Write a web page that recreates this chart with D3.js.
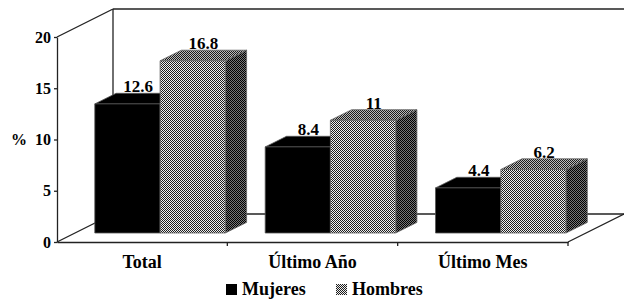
<!DOCTYPE html>
<html>
<head>
<meta charset="utf-8">
<script src="https://cdn.jsdelivr.net/npm/d3@7"></script>
<style>
    body { margin: 0; background: #fff; }
    svg { display: block; }
</style>
</head>
<body>
<div id="chart"></div>
<script>
// chart data
var categories = ["Total", "Último Año", "Último Mes"];
var series = ["Mujeres", "Hombres"];
var mujeres = [12.6, 8.4, 4.4];
var hombres = [16.8, 11, 6.2];
var yTicks = [0, 5, 10, 15, 20];

function init() {
    var w = 624;
    var h = 302;
    var serif = "'Liberation Serif', monospace";

    // depth of the 3d box and where bars sit inside it
    var DX = 56, DY = -28;
    var z0 = 0.32, z1 = 0.70;

    var svg = d3.select("#chart")
        .append("svg")
        .attr("width", w)
        .attr("height", h);

    // patterns for the Hombres bars
    var defs = svg.append("defs");
    function checker(id, bg, fg) {
        var p = defs.append("pattern")
            .attr("id", id)
            .attr("width", 2)
            .attr("height", 2)
            .attr("patternUnits", "userSpaceOnUse");
        p.append("rect").attr("width", 2).attr("height", 2).attr("fill", bg);
        p.append("rect").attr("width", 1).attr("height", 1).attr("fill", fg);
        p.append("rect").attr("x", 1).attr("y", 1).attr("width", 1).attr("height", 1).attr("fill", fg);
    }
    checker("hFront", "#f0f0f0", "#1e1e1e");
    checker("hTop", "#bbbbbb", "#1a1a1a");
    checker("hSide", "#777777", "#000000");

    var xScale = d3.scaleBand()
        .domain(categories)
        .range([57, 568])
        .paddingInner(0.234)
        .paddingOuter(0.117);

    var sScale = d3.scaleBand()
        .domain(series)
        .range([0, xScale.bandwidth()]);

    var yScale = d3.scaleLinear()
        .domain([0, 20])
        .range([242, 37]);

    function px(x, z) { return x + z * DX; }
    function py(y, z) { return y + z * DY; }

    var lineColor = "#222";
    var x0 = xScale.range()[0], x1 = xScale.range()[1];
    var yb = yScale(0), yt = yScale(20);

    // walls and floor
    var frame = svg.append("g")
        .attr("fill", "none")
        .attr("stroke", lineColor)
        .attr("stroke-width", 1.3);
    frame.append("line").attr("x1", x0).attr("y1", yt).attr("x2", px(x0, 1)).attr("y2", py(yt, 1));
    frame.append("line").attr("x1", px(x0, 1)).attr("y1", py(yt, 1)).attr("x2", px(x1, 1)).attr("y2", py(yt, 1));
    frame.append("line").attr("x1", px(x0, 1)).attr("y1", py(yt, 1)).attr("x2", px(x0, 1)).attr("y2", py(yb, 1));
    frame.append("line").attr("x1", x0).attr("y1", yb).attr("x2", px(x0, 1)).attr("y2", py(yb, 1));
    frame.append("line").attr("x1", px(x0, 1)).attr("y1", py(yb, 1)).attr("x2", px(x1, 1)).attr("y2", py(yb, 1));
    frame.append("line").attr("x1", x1).attr("y1", yb).attr("x2", px(x1, 1)).attr("y2", py(yb, 1));

    // bars
    var rows = [];
    categories.forEach(function(c, i) {
        rows.push({ cat: c, s: "Mujeres", v: mujeres[i] });
        rows.push({ cat: c, s: "Hombres", v: hombres[i] });
    });

    function pts(arr) {
        return arr.map(function(p) { return p[0].toFixed(1) + "," + p[1].toFixed(1); }).join(" ");
    }

    var bars = svg.append("g").selectAll("g")
        .data(rows)
        .enter()
        .append("g")
        .attr("stroke", function(d) { return d.s == "Mujeres" ? "#555" : "#666"; })
        .attr("stroke-width", 0.8);

    bars.each(function(d) {
        var g = d3.select(this);
        var a = xScale(d.cat) + sScale(d.s);
        var b = a + sScale.bandwidth();
        var base = yScale(0), top = yScale(d.v);
        var black = d.s == "Mujeres";
        g.append("polygon")
            .attr("points", pts([[px(b, z0), py(base, z0)], [px(b, z1), py(base, z1)], [px(b, z1), py(top, z1)], [px(b, z0), py(top, z0)]]))
            .attr("fill", black ? "#000" : "url(#hSide)");
        g.append("polygon")
            .attr("points", pts([[px(a, z0), py(top, z0)], [px(b, z0), py(top, z0)], [px(b, z1), py(top, z1)], [px(a, z1), py(top, z1)]]))
            .attr("fill", black ? "#000" : "url(#hTop)");
        g.append("polygon")
            .attr("points", pts([[px(a, z0), py(base, z0)], [px(b, z0), py(base, z0)], [px(b, z0), py(top, z0)], [px(a, z0), py(top, z0)]]))
            .attr("fill", black ? "#000" : "url(#hFront)");
    });

    // value labels
    svg.append("g").selectAll("text")
        .data(rows)
        .enter()
        .append("text")
        .attr("x", function(d) { return px(xScale(d.cat) + sScale(d.s) + sScale.bandwidth() / 2, (z0 + z1) / 2); })
        .attr("y", function(d) { return py(yScale(d.v), z1) - 1; })
        .attr("text-anchor", "middle")
        .attr("font-size", "17px")
        .attr("font-weight", "bold")
        .style("font-family", serif)
        .text(function(d) { return String(d.v); });

    // y-axis
    var yAxis = svg.append("g")
        .attr("transform", "translate(" + x0 + ",0)")
        .call(d3.axisLeft(yScale).tickValues(yTicks).tickSize(3).tickPadding(3).tickSizeOuter(0));
    yAxis.select(".domain").attr("stroke", lineColor).attr("stroke-width", 1.3);
    yAxis.selectAll(".tick line").attr("stroke", lineColor).attr("stroke-width", 1.3);
    yAxis.selectAll("text")
        .attr("font-size", "16px")
        .attr("font-weight", "bold")
        .style("font-family", serif)
        .attr("fill", "#000");

    svg.append("text")
        .attr("x", 19)
        .attr("y", yScale(10) + 5)
        .attr("text-anchor", "middle")
        .attr("font-size", "16px")
        .attr("font-weight", "bold")
        .style("font-family", serif)
        .text("%");

    // x-axis (category labels at centre, ticks at the band edges)
    var xAxis = svg.append("g")
        .attr("transform", "translate(0," + yb + ")")
        .call(d3.axisBottom(xScale).tickSize(0).tickPadding(13).tickSizeOuter(0));
    xAxis.select(".domain").attr("stroke", lineColor).attr("stroke-width", 1.3);
    xAxis.selectAll("text")
        .attr("font-size", "18px")
        .attr("font-weight", "bold")
        .style("font-family", serif)
        .attr("fill", "#000");

    var step = xScale.step();
    var edges = categories.map(function(c) { return xScale(c) - step * xScale.paddingInner() / 2 + step; });
    xAxis.selectAll(".edge")
        .data(edges)
        .enter()
        .append("line")
        .attr("x1", function(d) { return d; })
        .attr("x2", function(d) { return d; })
        .attr("y1", 0)
        .attr("y2", 4)
        .attr("stroke", lineColor)
        .attr("stroke-width", 1.3);

    // legend
    var legend = svg.append("g");
    var legX = [226, 336];
    legend.selectAll("rect")
        .data(series)
        .enter()
        .append("rect")
        .attr("x", function(d, i) { return legX[i]; })
        .attr("y", 284)
        .attr("width", 11)
        .attr("height", 11)
        .attr("fill", function(d, i) { return i == 0 ? "#000" : "url(#hFront)"; });
    legend.selectAll("text")
        .data(series)
        .enter()
        .append("text")
        .attr("x", function(d, i) { return legX[i] + 16; })
        .attr("y", 295)
        .attr("font-size", "18px")
        .attr("font-weight", "bold")
        .style("font-family", serif)
        .text(function(d) { return d; });
}

init();
</script>
</body>
</html>
